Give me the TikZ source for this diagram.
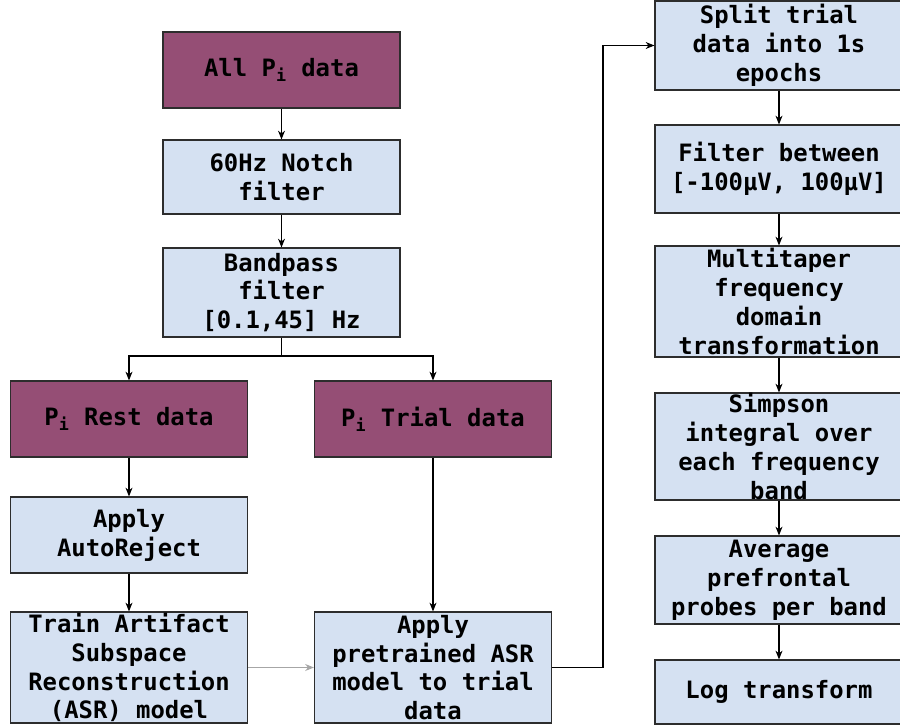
\documentclass[tikz,border=0pt]{standalone}
\usepackage{fontspec}
\setmonofont{DejaVu Sans Mono}
\usetikzlibrary{arrows.meta}
\definecolor{datapurple}{RGB}{149,78,117}
\definecolor{stepblue}{RGB}{213,225,242}
\definecolor{edgegrey}{RGB}{45,45,45}
\tikzset{
  box/.style={draw=edgegrey, line width=0.7pt, align=center, inner sep=0pt,
    font=\ttfamily\bfseries\fontsize{13.6}{16.4}\selectfont},
  databox/.style={box, fill=datapurple, minimum width=4.74cm, minimum height=1.52cm},
  procbox/.style={box, fill=stepblue, minimum width=4.74cm},
  colbox/.style={box, fill=stepblue, minimum width=4.96cm},
  arr/.style={-{Stealth[length=5pt,width=4pt]}, line width=0.6pt, black},
}
\begin{document}
\begin{tikzpicture}[x=0.02cm,y=-0.02cm]
\useasboundingbox (0,0) rectangle (900,725);
% left part
\node[databox] (all) at (281.5,70) {All P\textsubscript{i} data};
\node[procbox, minimum height=1.48cm] (notch) at (281.5,177) {60Hz Notch\\filter};
\node[procbox, minimum height=1.78cm] (bp) at (281.5,292.5) {Bandpass\\filter\\{[0.1,45]} Hz};
\node[databox] (rest) at (129,419) {P\textsubscript{i} Rest data};
\node[databox] (trial) at (433,419) {P\textsubscript{i} Trial data};
\node[procbox, minimum height=1.52cm] (autorej) at (129,535) {Apply\\AutoReject};
\node[procbox, minimum height=2.22cm] (train) at (129,667.5) {Train Artifact\\Subspace\\Reconstruction\\(ASR) model};
\node[procbox, minimum height=2.22cm] (apply) at (433,667.5) {Apply\\pretrained ASR\\model to trial\\data};
% right column
\node[colbox, minimum height=1.78cm] (splt) at (779,45.5) {Split trial\\data into 1s\\epochs};
\node[colbox, minimum height=1.76cm] (filt) at (779,169) {Filter between\\{[-100µV, 100µV]}};
\node[colbox, minimum height=2.22cm] (multi) at (779,301.5) {Multitaper\\frequency\\domain\\transformation};
\node[colbox, minimum height=2.14cm] (simp) at (779,446.5) {Simpson\\integral over\\each frequency\\band};
\node[colbox, minimum height=1.76cm] (avg) at (779,580) {Average\\prefrontal\\probes per band};
\node[colbox, minimum height=1.28cm] (logt) at (779,692) {Log transform};
% connectors
\coordinate (fork) at (281.5,356);
\coordinate (turn) at (603,667.5);
\draw[arr] (all) -- (notch);
\draw[arr] (notch) -- (bp);
\draw[line width=0.6pt] (bp) -- (fork);
\draw[arr] (fork) -| (rest);
\draw[arr] (fork) -| (trial);
\draw[arr] (rest) -- (autorej);
\draw[arr] (autorej) -- (train);
\draw[arr] (trial) -- (apply);
\draw[arr, draw=gray!70, fill=gray!70] (train) -- (apply);
\draw[arr] (apply) -- (turn) |- (splt);
\draw[arr] (splt) -- (filt);
\draw[arr] (filt) -- (multi);
\draw[arr] (multi) -- (simp);
\draw[arr] (simp) -- (avg);
\draw[arr] (avg) -- (logt);
\end{tikzpicture}
\end{document}
